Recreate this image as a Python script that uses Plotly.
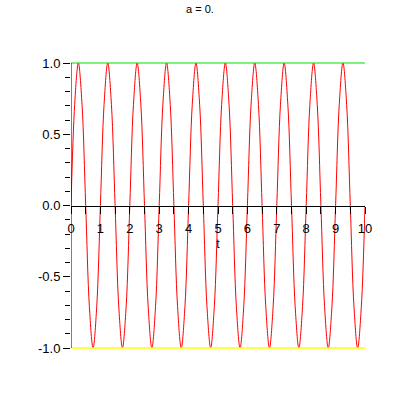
import plotly.graph_objects as go

title_text = "a = 0."
x_label = "t"

t_values = [
    0.0, 0.125, 0.25, 0.375, 0.5, 0.625, 0.75, 0.875,
    1.0, 1.125, 1.25, 1.375, 1.5, 1.625, 1.75, 1.875,
    2.0, 2.125, 2.25, 2.375, 2.5, 2.625, 2.75, 2.875,
    3.0, 3.125, 3.25, 3.375, 3.5, 3.625, 3.75, 3.875,
    4.0, 4.125, 4.25, 4.375, 4.5, 4.625, 4.75, 4.875,
    5.0, 5.125, 5.25, 5.375, 5.5, 5.625, 5.75, 5.875,
    6.0, 6.125, 6.25, 6.375, 6.5, 6.625, 6.75, 6.875,
    7.0, 7.125, 7.25, 7.375, 7.5, 7.625, 7.75, 7.875,
    8.0, 8.125, 8.25, 8.375, 8.5, 8.625, 8.75, 8.875,
    9.0, 9.125, 9.25, 9.375, 9.5, 9.625, 9.75, 9.875,
    10.0,
]
y_values = [
    0.0, 0.71, 1.0, 0.71, 0.0, -0.71, -1.0, -0.71,
    0.0, 0.71, 1.0, 0.71, 0.0, -0.71, -1.0, -0.71,
    0.0, 0.71, 1.0, 0.71, 0.0, -0.71, -1.0, -0.71,
    0.0, 0.71, 1.0, 0.71, 0.0, -0.71, -1.0, -0.71,
    0.0, 0.71, 1.0, 0.71, 0.0, -0.71, -1.0, -0.71,
    0.0, 0.71, 1.0, 0.71, 0.0, -0.71, -1.0, -0.71,
    0.0, 0.71, 1.0, 0.71, 0.0, -0.71, -1.0, -0.71,
    0.0, 0.71, 1.0, 0.71, 0.0, -0.71, -1.0, -0.71,
    0.0, 0.71, 1.0, 0.71, 0.0, -0.71, -1.0, -0.71,
    0.0, 0.71, 1.0, 0.71, 0.0, -0.71, -1.0, -0.71,
    0.0,
]
upper_bound_t = [0, 10]
upper_bound_y = [1, 1]
lower_bound_t = [0, 10]
lower_bound_y = [-1, -1]

x_ticks = [0, 1, 2, 3, 4, 5, 6, 7, 8, 9, 10]
y_ticks = [-1.0, -0.5, 0.0, 0.5, 1.0]
y_tick_labels = ["-1.0", "-0.5", "0.0", "0.5", "1.0"]

FONT = "Liberation Sans, Arial, sans-serif"

fig = go.Figure()
fig.add_trace(go.Scatter(x=t_values, y=y_values, mode="lines",
                         line=dict(color="#ff0000", width=1, shape="spline", smoothing=1.0),
                         showlegend=False))
fig.add_trace(go.Scatter(x=upper_bound_t, y=upper_bound_y, mode="lines",
                         line=dict(color="#00e000", width=1.2), showlegend=False))
fig.add_trace(go.Scatter(x=lower_bound_t, y=lower_bound_y, mode="lines",
                         line=dict(color="#ffff00", width=1.5), showlegend=False))

fig.update_layout(
    width=398, height=398,
    margin=dict(l=71, r=33, t=62, b=49),
    paper_bgcolor="white", plot_bgcolor="white",
    font=dict(family=FONT, size=12, color="black"),
    title=dict(text=title_text, x=200 / 398, xanchor="center", y=1 - 9 / 398,
               yanchor="middle", font=dict(family=FONT, size=11, color="black")),
    xaxis=dict(range=[0, 10], anchor="free", position=0.5,
               tickmode="array", tickvals=x_ticks, ticktext=[str(v) for v in x_ticks],
               ticks="outside", ticklen=7, tickcolor="black", tickwidth=1,
               minor=dict(dtick=0.5, ticks="outside", ticklen=7, tickcolor="black"),
               showline=True, linecolor="black", linewidth=1,
               showgrid=False, zeroline=False,
               tickfont=dict(size=13),
               ticklabelstandoff=4,
               title=dict(text=x_label, standoff=4, font=dict(size=12))),
    yaxis=dict(range=[-1.007, 1.007], tickmode="array", tickvals=y_ticks, ticktext=y_tick_labels,
               ticks="outside", ticklen=7, tickcolor="black", tickwidth=1,
               minor=dict(tickmode="array",
                          tickvals=[-0.9, -0.8, -0.7, -0.6, -0.4, -0.3, -0.2, -0.1,
                                    0.1, 0.2, 0.3, 0.4, 0.6, 0.7, 0.8, 0.9],
                          ticks="outside", ticklen=5, tickcolor="black"),
               showline=False,
               showgrid=False, zeroline=False,
               tickfont=dict(size=13)),
    shapes=[dict(type="line", xref="x", yref="y", x0=0, x1=0, y0=-1, y1=1,
                 line=dict(color="black", width=1), layer="above")],
)

fig.write_html("out.html")
